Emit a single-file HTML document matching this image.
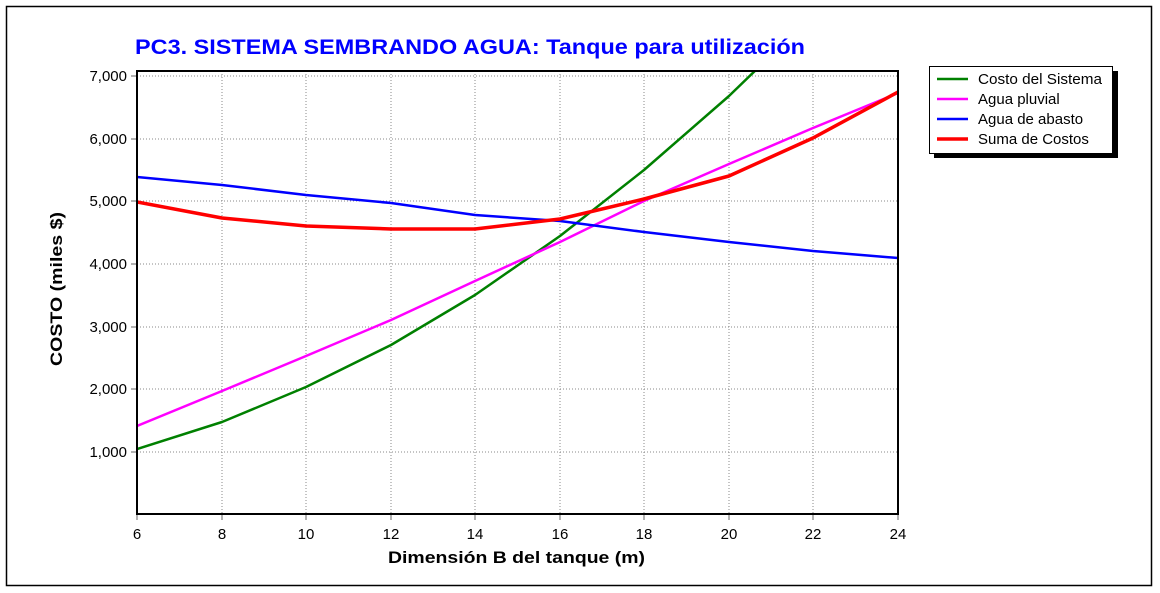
<!DOCTYPE html>
<html><head><meta charset="utf-8"><style>body{margin:0;background:#fff}svg{display:block}</style></head><body>
<svg width="1160" height="593" xmlns="http://www.w3.org/2000/svg" font-family="Liberation Sans, Arial, sans-serif">
<rect x="0" y="0" width="1160" height="593" fill="#fff"/>
<rect x="6.5" y="6.5" width="1145" height="579" fill="none" stroke="#000" stroke-width="1.5"/>
<text x="135" y="54" font-size="21" font-weight="bold" fill="#0000ff" textLength="670" lengthAdjust="spacingAndGlyphs">PC3. SISTEMA SEMBRANDO AGUA: Tanque para utilización</text>
<g stroke="#888" stroke-width="1" stroke-dasharray="1,2">
<line x1="137" y1="452" x2="898" y2="452"/><line x1="137" y1="389" x2="898" y2="389"/><line x1="137" y1="327" x2="898" y2="327"/><line x1="137" y1="264" x2="898" y2="264"/><line x1="137" y1="201" x2="898" y2="201"/><line x1="137" y1="139" x2="898" y2="139"/><line x1="137" y1="76" x2="898" y2="76"/>
<line x1="222" y1="71" x2="222" y2="514"/><line x1="306" y1="71" x2="306" y2="514"/><line x1="391" y1="71" x2="391" y2="514"/><line x1="475" y1="71" x2="475" y2="514"/><line x1="560" y1="71" x2="560" y2="514"/><line x1="644" y1="71" x2="644" y2="514"/><line x1="729" y1="71" x2="729" y2="514"/><line x1="813" y1="71" x2="813" y2="514"/>
</g>
<g stroke="#666" stroke-width="1">
<line x1="131" y1="452" x2="137" y2="452"/><line x1="131" y1="389" x2="137" y2="389"/><line x1="131" y1="327" x2="137" y2="327"/><line x1="131" y1="264" x2="137" y2="264"/><line x1="131" y1="201" x2="137" y2="201"/><line x1="131" y1="139" x2="137" y2="139"/><line x1="131" y1="76" x2="137" y2="76"/>
<line x1="137" y1="514" x2="137" y2="520"/><line x1="222" y1="514" x2="222" y2="520"/><line x1="306" y1="514" x2="306" y2="520"/><line x1="391" y1="514" x2="391" y2="520"/><line x1="475" y1="514" x2="475" y2="520"/><line x1="560" y1="514" x2="560" y2="520"/><line x1="644" y1="514" x2="644" y2="520"/><line x1="729" y1="514" x2="729" y2="520"/><line x1="813" y1="514" x2="813" y2="520"/><line x1="898" y1="514" x2="898" y2="520"/>
</g>
<g font-size="15" fill="#000" text-anchor="end">
<text x="127" y="457">1,000</text><text x="127" y="394">2,000</text><text x="127" y="332">3,000</text><text x="127" y="269">4,000</text><text x="127" y="206">5,000</text><text x="127" y="144">6,000</text><text x="127" y="81">7,000</text>
</g>
<g font-size="15" fill="#000" text-anchor="middle">
<text x="137" y="539">6</text><text x="222" y="539">8</text><text x="306" y="539">10</text><text x="391" y="539">12</text><text x="475" y="539">14</text><text x="560" y="539">16</text><text x="644" y="539">18</text><text x="729" y="539">20</text><text x="813" y="539">22</text><text x="898" y="539">24</text>
</g>
<text x="388" y="563" font-size="17" font-weight="bold" textLength="257" lengthAdjust="spacingAndGlyphs">Dimensión B del tanque (m)</text>
<text transform="translate(62,366) rotate(-90)" font-size="17" font-weight="bold" textLength="154" lengthAdjust="spacingAndGlyphs">COSTO (miles $)</text>
<svg x="137" y="71" width="761" height="443" overflow="hidden">
<g fill="none" stroke-linejoin="round" transform="translate(-137,-71)">
<polyline stroke="#008000" stroke-width="2.5" points="137,449 222,422 306,387 391,345 475,295 560,236 644,170 729,96 760,66"/>
<polyline stroke="#ff00ff" stroke-width="2.5" points="137,426 222,391 306,356 391,320 475,281 560,242 644,201 729,164 813,128 898,93"/>
<polyline stroke="#0000ff" stroke-width="2.5" points="137,177 222,185 306,195 391,203 475,215 560,221 644,232 729,242 813,251 898,258"/>
<polyline stroke="#ff0000" stroke-width="3.5" points="137,202 222,218 306,226 391,229 475,229 560,219 644,199 729,176 813,138 898,92"/>
</g></svg>
<rect x="137" y="71" width="761" height="443" fill="none" stroke="#000" stroke-width="2"/>
<rect x="934" y="71" width="184" height="87" fill="#000"/>
<rect x="929.5" y="66.5" width="183" height="87" fill="#fff" stroke="#000" stroke-width="1"/>
<line x1="937" y1="79" x2="968" y2="79" stroke="#008000" stroke-width="2.5"/>
<line x1="937" y1="99" x2="968" y2="99" stroke="#ff00ff" stroke-width="2.5"/>
<line x1="937" y1="119" x2="968" y2="119" stroke="#0000ff" stroke-width="2.5"/>
<line x1="937" y1="139" x2="968" y2="139" stroke="#ff0000" stroke-width="3.5"/>
<g font-size="15" fill="#000">
<text x="978" y="84" textLength="124" lengthAdjust="spacingAndGlyphs">Costo del Sistema</text><text x="978" y="104">Agua pluvial</text><text x="978" y="124">Agua de abasto</text><text x="978" y="144">Suma de Costos</text>
</g>
</svg>
</body></html>
